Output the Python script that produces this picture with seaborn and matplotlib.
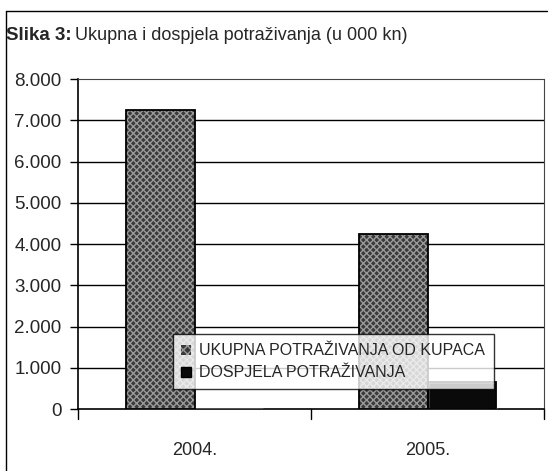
import matplotlib
matplotlib.use('Agg')
import matplotlib.pyplot as plt
from matplotlib.patches import Rectangle, Patch
from matplotlib.lines import Line2D
from matplotlib.ticker import FuncFormatter, MultipleLocator
import pandas as pd
import seaborn as sns

# Podaci (u 000 kn)
godine = ['2004.', '2005.']
serije = ['UKUPNA POTRAŽIVANJA OD KUPACA', 'DOSPJELA POTRAŽIVANJA']
ukupna = [7250, 4250]
dospjela = [0, 650]

df = pd.DataFrame({
    'godina': godine * 2,
    'serija': [serije[0]] * 2 + [serije[1]] * 2,
    'iznos': ukupna + dospjela,
})

sns.set_style('white')
plt.rcParams['font.family'] = ['Liberation Sans', 'DejaVu Sans']

fig = plt.figure(figsize=(5.49, 4.71), dpi=100)
ax = fig.add_axes([78 / 549, 1 - 409 / 471, (544 - 78) / 549, (409 - 79) / 471])

siva = '#3a3a3a'
boje = {serije[0]: siva, serije[1]: '#0a0a0a'}
sns.barplot(data=df, x='godina', y='iznos', hue='serija', palette=boje,
            width=0.59, ax=ax, legend=False, saturation=1, zorder=3)

# tekstura sivih stupaca + crni rub
n = len(godine)
for i, p in enumerate(ax.patches[:2 * n]):
    if i < n:
        p.set_hatch('xxxxx')
        p.set_edgecolor('#9a9a9a')
        p.set_linewidth(0)
    if p.get_height() > 0:
        ax.add_patch(Rectangle(p.get_xy(), p.get_width(), p.get_height(),
                               fill=False, ec='black', lw=1.3, zorder=4))

ax.set_ylim(0, 8000)
ax.set_xlim(-0.5, 1.5)
ax.yaxis.set_major_locator(MultipleLocator(1000))
ax.yaxis.set_major_formatter(FuncFormatter(lambda v, _: f'{int(v):,}'.replace(',', '.')))
ax.set_xlabel('')
ax.set_ylabel('')

for v in range(1000, 8000, 1000):
    ax.axhline(v, color='black', lw=1, zorder=1)

for s in ['top', 'right']:
    ax.spines[s].set_linestyle((0, (1, 1)))
    ax.spines[s].set_linewidth(0.8)
    ax.spines[s].set_color('#444444')
for s in ['left', 'bottom']:
    ax.spines[s].set_color('black')
    ax.spines[s].set_linewidth(1.2)

ax.tick_params(axis='y', direction='out', length=6, width=1, color='black',
               labelsize=13.5, pad=6, left=True)
ax.tick_params(axis='x', length=0, labelsize=13, pad=24)
for xb in [-0.5, 0.5, 1.5]:
    ax.plot([xb, xb], [0, -0.03], transform=ax.get_xaxis_transform(),
            color='black', lw=1, clip_on=False)

h0 = Patch(facecolor=siva, edgecolor='#9a9a9a', hatch='xxxx', lw=0)
h1 = Patch(facecolor='#0a0a0a', edgecolor='black')
leg = ax.legend([h0, h1], serije, loc='lower left', bbox_to_anchor=(0.203, 0.06),
                frameon=True, fancybox=False, fontsize=11.5, handlelength=0.6,
                handleheight=0.6, handletextpad=0.5, borderpad=0.55,
                labelspacing=0.45, borderaxespad=0)
leg.get_frame().set_edgecolor('black')
leg.get_frame().set_linewidth(1)
leg.set_zorder(10)

# naslov
t1 = fig.text(6 / 549, 1 - 35 / 471, 'Slika 3:', fontsize=13.5, fontweight='bold', va='center')
fig.canvas.draw()
bb = t1.get_window_extent()
fig.text(bb.x1 / 549 + 0.006, 1 - 35 / 471, 'Ukupna i dospjela potraživanja (u 000 kn)',
         fontsize=13, va='center')

# okvir
fig.add_artist(Line2D([6 / 549, 6 / 549], [0, 1 - 11 / 471], color='black', lw=1))
fig.add_artist(Line2D([6 / 549, 547 / 549], [1 - 11 / 471, 1 - 11 / 471], color='black', lw=1))

fig.savefig('out.png', dpi=100)
